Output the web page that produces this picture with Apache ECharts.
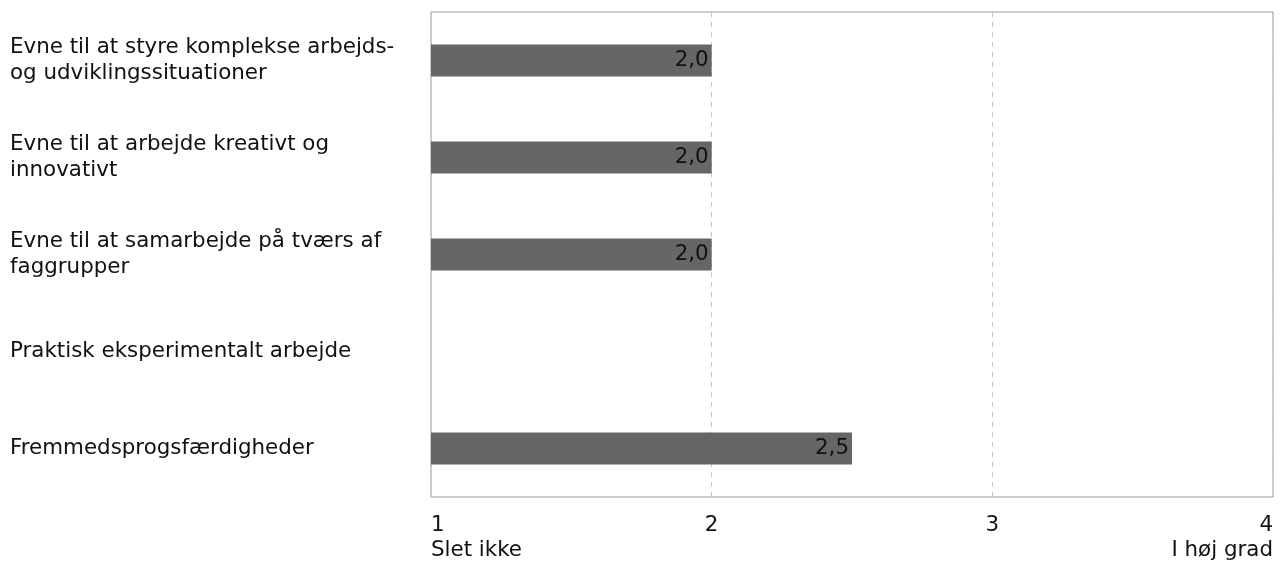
<!DOCTYPE html>
<html><head><meta charset="utf-8">
<script src="https://cdn.jsdelivr.net/npm/echarts@6/dist/echarts.min.js"></script>
<style>html,body{margin:0;padding:0;background:#fff}#c{width:1286px;height:564px}</style>
</head><body><div id="c"></div>
<script>
const categories = [
  "Evne til at styre komplekse arbejds-\nog udviklingssituationer",
  "Evne til at arbejde kreativt og\ninnovativt",
  "Evne til at samarbejde på tværs af\nfaggrupper",
  "Praktisk eksperimentalt arbejde",
  "Fremmedsprogsfærdigheder"
];
const values = [2.0, 2.0, 2.0, null, 2.5];
const tickLabels = {1: "1\nSlet ikke", 2: "2", 3: "3", 4: "4\nI høj grad"};

const chart = echarts.init(document.getElementById('c'), null, {renderer: 'canvas'});
const font = "DejaVu Sans";
const fs = 21.4;
chart.setOption({
  animation: false,
  textStyle: {fontFamily: font},
  grid: {left: 431, right: 13, top: 12, bottom: 67, show: true, borderColor: '#999', borderWidth: 1, containLabel: false},
  xAxis: {
    type: 'value', min: 1, max: 4, interval: 1,
    axisLine: {show: false}, axisTick: {show: false},
    splitLine: {show: true, lineStyle: {type: [5, 5], color: '#c4c4c4', width: 1}},
    axisLabel: {
      fontFamily: font, fontSize: fs, color: '#111', margin: 16, lineHeight: 25,
      alignMinLabel: 'left', alignMaxLabel: 'right',
      formatter: v => tickLabels[v] || String(v)
    }
  },
  yAxis: {
    type: 'category', data: categories, inverse: true,
    axisLine: {show: false}, axisTick: {show: false},
    axisLabel: {fontFamily: font, fontSize: fs, color: '#111', align: 'left', margin: 421, lineHeight: 26}
  },
  series: [{
    type: 'bar', data: values, barWidth: 32,
    itemStyle: {color: '#666666'},
    label: {show: true, position: 'insideRight', distance: 3, color: '#111', fontFamily: font, fontSize: fs,
      formatter: p => p.value == null ? '' : p.value.toFixed(1).replace('.', ',')}
  }]
});
</script></body></html>
